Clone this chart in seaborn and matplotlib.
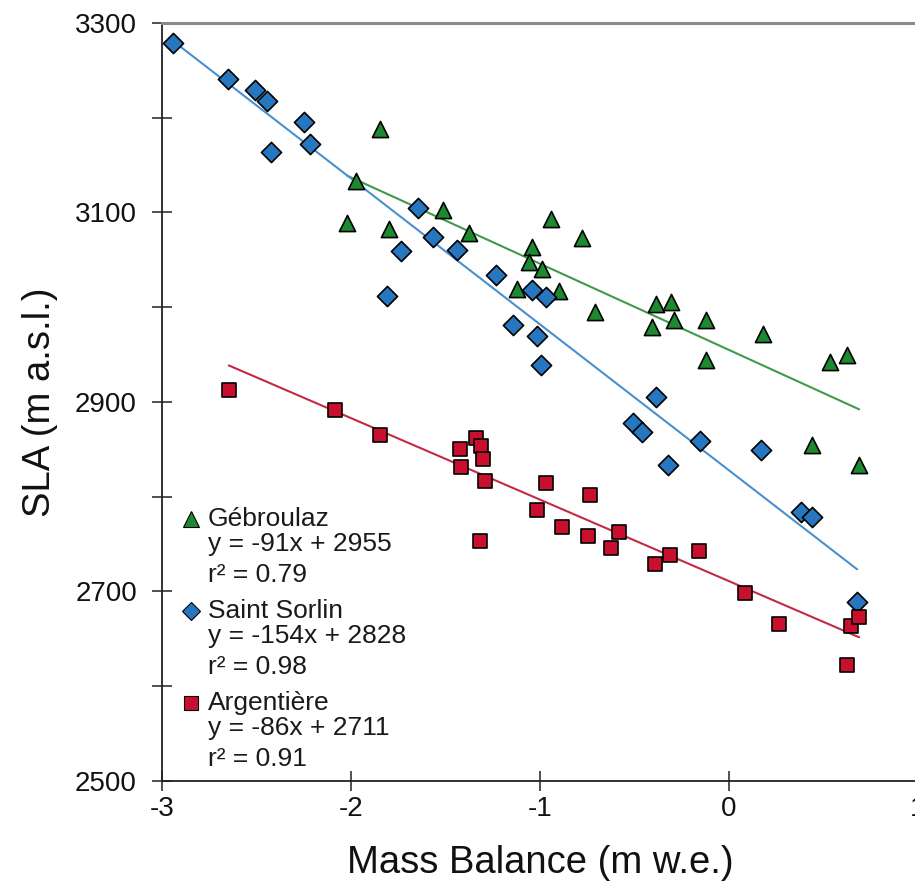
import matplotlib
matplotlib.use("Agg")
import matplotlib.pyplot as plt
import matplotlib.ticker as mticker
import numpy as np
import pandas as pd
import seaborn as sns

# Gébroulaz glacier: mass balance (m w.e.) vs snow line altitude (m a.s.l.)
geb_mb = [-1.847, -1.974, -1.512, -2.020, -1.797, -1.374, -1.041, -1.058, -0.991,
          -1.123, -0.942, -0.779, -0.899, -0.709, -0.383, -0.308, -0.409, -0.291,
          -0.122, -0.123, 0.182, 0.538, 0.628, 0.441, 0.690]
geb_sla = [3188, 3133, 3103, 3089, 3083, 3078, 3064, 3048, 3040,
           3019, 3093, 3073, 3017, 2995, 3003, 3006, 2979, 2987,
           2987, 2944, 2972, 2942, 2950, 2855, 2833]

# Saint Sorlin glacier
sso_mb = [-2.943, -2.649, -2.506, -2.446, -2.249, -2.215, -2.425, -1.647, -1.564,
          -1.734, -1.438, -1.233, -1.808, -1.044, -0.970, -1.141, -1.017, -0.995,
          -0.383, -0.506, -0.459, -0.153, -0.321, 0.169, 0.384, 0.441, 0.679]
sso_sla = [3279, 3241, 3229, 3218, 3195, 3172, 3164, 3105, 3074,
           3059, 3060, 3034, 3012, 3018, 3011, 2981, 2970, 2939,
           2905, 2878, 2868, 2859, 2833, 2849, 2784, 2779, 2689]

# Argentière glacier
arg_mb = [-2.646, -2.085, -1.847, -1.423, -1.339, -1.312, -1.303, -1.418, -1.291,
          -0.968, -1.017, -1.317, -0.732, -0.885, -0.744, -0.582, -0.621, -0.392,
          -0.312, -0.160, 0.088, 0.266, 0.649, 0.690, 0.623]
arg_sla = [2913, 2892, 2865, 2850, 2862, 2854, 2840, 2831, 2817,
           2814, 2786, 2753, 2802, 2768, 2759, 2763, 2746, 2729,
           2739, 2743, 2698, 2666, 2664, 2673, 2622]

glaciers = ["Gébroulaz", "Saint Sorlin", "Argentière"]
slopes = [-91, -154, -86]
intercepts = [2955, 2828, 2711]
r_squared = [0.79, 0.98, 0.91]

x_ticks = [-3, -2, -1, 0, 1]
y_major = [2500, 2700, 2900, 3100, 3300]
y_minor = [2600, 2800, 3000, 3200]

fill_colors = ["#1e8a30", "#2677c0", "#c8102e"]
line_colors = ["#3f9b4b", "#4a90cc", "#c42a42"]
markers = ["^", "D", "s"]
sizes = [135, 105, 110]

sns.set_theme(style="white")
plt.rcParams["font.family"] = ["Liberation Sans", "DejaVu Sans"]

fig = plt.figure(figsize=(9.15, 8.82), dpi=100)
ax = fig.add_axes([0.177, 0.1145, 0.826, 0.8595])

series = [(geb_mb, geb_sla), (sso_mb, sso_sla), (arg_mb, arg_sla)]

# regression lines from the stated fits, spanning each glacier's data range
for i, (mb, sla) in enumerate(series):
    xs = np.array([min(mb), max(mb)])
    fit = pd.DataFrame({"mb": xs, "sla": slopes[i] * xs + intercepts[i]})
    sns.lineplot(data=fit, x="mb", y="sla", ax=ax, color=line_colors[i],
                 linewidth=1.5, zorder=2)

for i, (mb, sla) in enumerate(series):
    df = pd.DataFrame({"mb": mb, "sla": sla})
    sns.scatterplot(data=df, x="mb", y="sla", ax=ax, marker=markers[i],
                    s=sizes[i], color=fill_colors[i], edgecolor="black",
                    linewidth=1.2, zorder=3)

ax.set_xlim(-3, 1)
ax.set_ylim(2500, 3300)
ax.set_xticks(x_ticks)
ax.set_xticklabels([str(v) for v in x_ticks])
ax.set_yticks(y_major)
ax.set_yticklabels([str(v) for v in y_major])
ax.yaxis.set_minor_locator(mticker.FixedLocator(y_minor))

ax.tick_params(axis="both", which="both", direction="inout", length=14,
               width=1.2, color="#333333", labelsize=20, labelcolor="#111111",
               left=True, bottom=True)
ax.tick_params(axis="y", pad=11)
ax.tick_params(axis="x", pad=4)

for side in ["left", "bottom"]:
    ax.spines[side].set_color("#222222")
    ax.spines[side].set_linewidth(1.3)
ax.spines["top"].set_color("#8a8a8a")
ax.spines["top"].set_linewidth(2.2)
ax.spines["right"].set_visible(False)

ax.set_xlabel("Mass Balance (m w.e.)", fontsize=27.5, color="#111111", labelpad=16)
ax.set_ylabel("SLA (m a.s.l.)", fontsize=27.5, color="#111111", labelpad=12)

# key with marker, fit equation and r² for each glacier
trans = ax.transAxes
legend_sizes = [11, 9.5, 10]
for i, name in enumerate(glaciers):
    top = 0.346 - i * 0.1215
    ax.plot([0.038], [top], marker=markers[i], markersize=legend_sizes[i],
            color=fill_colors[i], markeredgecolor="black", markeredgewidth=0.8,
            transform=trans, clip_on=False, linestyle="none")
    ax.text(0.061, top, name, transform=trans, fontsize=19, va="center",
            color="#1a1a1a")
    ax.text(0.061, top - 0.033, f"y = {slopes[i]}x + {intercepts[i]}",
            transform=trans, fontsize=19, va="center", color="#1a1a1a")
    ax.text(0.061, top - 0.074, f"r² = {r_squared[i]:.2f}", transform=trans,
            fontsize=19, va="center", color="#1a1a1a")

fig.savefig("out.png", dpi=100)
